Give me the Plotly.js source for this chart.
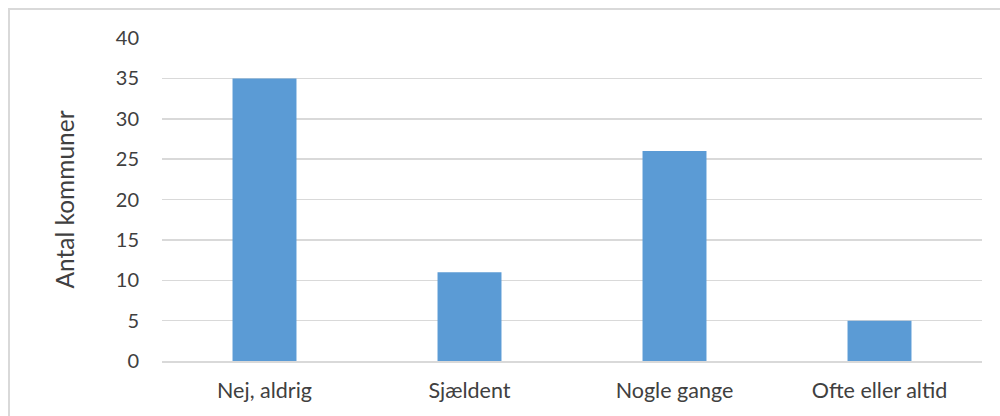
<!DOCTYPE html>
<html>
<head>
<meta charset="utf-8">
<script src="https://cdn.plot.ly/plotly-3.0.1.min.js"></script>
<style>
html,body{margin:0;padding:0;background:#fff;}
#wrap{position:relative;width:1000px;height:416px;overflow:hidden;}
#chart{width:1000px;height:416px;}
#frame{position:absolute;left:8px;top:8px;width:1000px;height:420px;border:2px solid #d9d9d9;box-sizing:border-box;pointer-events:none;}
</style>
</head>
<body>
<div id="wrap">
<div id="chart"></div>
<div id="frame"></div>
</div>
<script>
var categories = ["Nej, aldrig", "Sjældent", "Nogle gange", "Ofte eller altid"];
var values = [35, 11, 26, 5];
var yTicks = [0, 5, 10, 15, 20, 25, 30, 35, 40];
var yTitle = "Antal kommuner";

var trace = {
  type: "bar",
  x: categories,
  y: values,
  marker: {color: "#5b9bd5"},
  hoverinfo: "x+y"
};

var layout = {
  width: 1000,
  height: 416,
  margin: {l: 162, r: 18, t: 38, b: 55},
  paper_bgcolor: "#ffffff",
  plot_bgcolor: "#ffffff",
  bargap: 0.688,
  showlegend: false,
  font: {family: "Lato, 'Open Sans', sans-serif", size: 20, color: "#404040"},
  xaxis: {
    showgrid: false,
    showline: true,
    linecolor: "#d9d9d9",
    linewidth: 1.5,
    ticks: "",
    zeroline: false,
    ticklabelstandoff: 10,
    tickfont: {size: 21.5, color: "#404040"}
  },
  yaxis: {
    range: [0, 40],
    tickvals: yTicks,
    showgrid: true,
    gridcolor: "#d9d9d9",
    gridwidth: 1.5,
    zeroline: false,
    showline: false,
    ticks: "",
    ticklabelstandoff: 22,
    tickfont: {size: 20, color: "#404040"},
    title: {text: yTitle, font: {size: 24.5, color: "#404040"}, standoff: 34}
  }
};

Plotly.newPlot("chart", [trace], layout, {displayModeBar: false, staticPlot: true});
</script>
</body>
</html>
